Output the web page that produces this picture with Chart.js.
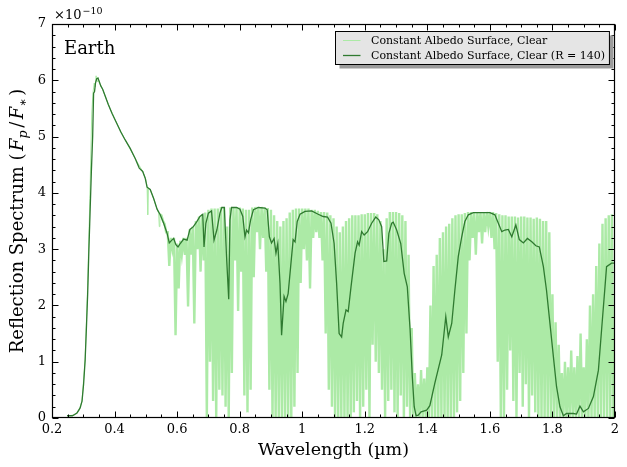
<!DOCTYPE html>
<html lang="en">
<head>
<meta charset="UTF-8">
<title>Earth reflection spectrum</title>
<script src="https://cdn.jsdelivr.net/npm/chart.js"></script>
<style>
  html, body { margin: 0; padding: 0; background: #fff; }
</style>
</head>
<body>
<canvas id="spectrum" width="627" height="467"></canvas>
<script>
// high resolution spectrum, smooth UV/blue part (wavelength in um, flux in 1e-10)
const smoothWl = [0.250, 0.270, 0.285, 0.296, 0.306, 0.314, 0.321, 0.327, 0.331, 0.335,
                  0.338, 0.341, 0.344, 0.347, 0.351, 0.362, 0.380, 0.405, 0.434, 0.466,
                  0.490, 0.500, 0.504, 0.506, 0.508, 0.514, 0.525, 0.536, 0.541, 0.543, 0.545];
const smoothFlux = [0.04, 0.05, 0.12, 0.30, 1.05, 2.35, 3.90, 5.40, 5.78, 5.95,
                    5.88, 6.08, 5.98, 6.05, 5.96, 5.84, 5.57, 5.26, 4.94, 4.61,
                    4.38, 4.24, 4.10, 3.61, 4.08, 4.06, 3.90, 3.71, 3.64, 3.40, 3.62];

// high resolution spectrum beyond 0.55 um, read per 0.01 um bin: top and bottom of the lines
const binWl = [0.55, 0.56, 0.57, 0.58, 0.59, 0.60, 0.61, 0.62, 0.63, 0.64,
               0.65, 0.66, 0.67, 0.68, 0.69, 0.70, 0.71, 0.72, 0.73, 0.74,
               0.75, 0.76, 0.77, 0.78, 0.79, 0.80, 0.81, 0.82, 0.83, 0.84,
               0.85, 0.86, 0.87, 0.88, 0.89, 0.90, 0.91, 0.92, 0.93, 0.94,
               0.95, 0.96, 0.97, 0.98, 0.99, 1.00, 1.01, 1.02, 1.03, 1.04,
               1.05, 1.06, 1.07, 1.08, 1.09, 1.10, 1.11, 1.12, 1.13, 1.14,
               1.15, 1.16, 1.17, 1.18, 1.19, 1.20, 1.21, 1.22, 1.23, 1.24,
               1.25, 1.26, 1.27, 1.28, 1.29, 1.30, 1.31, 1.32, 1.33, 1.34,
               1.35, 1.36, 1.37, 1.38, 1.39, 1.40, 1.41, 1.42, 1.43, 1.44,
               1.45, 1.46, 1.47, 1.48, 1.49, 1.50, 1.51, 1.52, 1.53, 1.54,
               1.55, 1.56, 1.57, 1.58, 1.59, 1.60, 1.61, 1.62, 1.63, 1.64,
               1.65, 1.66, 1.67, 1.68, 1.69, 1.70, 1.71, 1.72, 1.73, 1.74,
               1.75, 1.76, 1.77, 1.78, 1.79, 1.80, 1.81, 1.82, 1.83, 1.84,
               1.85, 1.86, 1.87, 1.88, 1.89, 1.90, 1.91, 1.92, 1.93, 1.94,
               1.95, 1.96, 1.97, 1.98, 1.99];
const binTop = [3.60, 3.45, 3.30, 3.20, 3.20, 3.10, 3.15, 3.20, 3.20, 3.35,
                3.40, 3.50, 3.58, 3.62, 3.65, 3.70, 3.72, 3.72, 3.72, 3.75,
                3.75, 3.40, 3.74, 3.75, 3.75, 3.74, 3.72, 3.70, 3.70, 3.74,
                3.75, 3.75, 3.75, 3.74, 3.73, 3.70, 3.60, 3.50, 3.40, 3.50,
                3.55, 3.65, 3.70, 3.72, 3.72, 3.72, 3.72, 3.72, 3.70, 3.70,
                3.68, 3.66, 3.66, 3.65, 3.60, 3.55, 3.40, 3.30, 3.40, 3.50,
                3.55, 3.60, 3.60, 3.60, 3.62, 3.62, 3.64, 3.64, 3.64, 3.62,
                3.50, 3.00, 3.55, 3.66, 3.66, 3.66, 3.64, 3.60, 3.50, 2.90,
                1.60, 0.80, 0.60, 0.85, 0.70, 0.90, 2.00, 2.70, 2.90, 3.20,
                3.30, 3.40, 3.45, 3.55, 3.60, 3.62, 3.62, 3.64, 3.66, 3.66,
                3.66, 3.66, 3.66, 3.66, 3.66, 3.66, 3.66, 3.64, 3.62, 3.60,
                3.60, 3.58, 3.58, 3.58, 3.56, 3.58, 3.58, 3.56, 3.56, 3.54,
                3.56, 3.54, 3.50, 3.50, 3.30, 2.20, 1.70, 1.30, 0.80, 1.00,
                0.90, 1.20, 0.90, 1.10, 1.50, 0.90, 1.40, 2.00, 2.20, 2.70,
                3.10, 3.45, 3.55, 3.60, 3.62];
const binLow = [3.50, 3.30, 2.70, 3.00, 1.47, 2.30, 2.90, 2.90, 1.98, 2.90,
                1.68, 3.00, 2.60, 2.80, 0.00, 1.00, 0.30, 0.00, 0.50, 0.40,
                0.20, 0.00, 0.80, 2.80, 1.90, 2.60, 0.40, 0.10, 0.50, 2.50,
                3.30, 3.00, 3.20, 2.60, 0.50, 0.00, 0.00, 0.00, 0.00, 0.00,
                0.00, 0.00, 0.20, 0.80, 2.40, 3.00, 2.80, 2.30, 3.20, 3.30,
                3.20, 2.80, 1.50, 0.50, 0.20, 0.00, 0.00, 0.00, 0.00, 0.00,
                0.00, 0.10, 0.30, 0.00, 0.20, 0.50, 0.00, 1.30, 1.00, 0.80,
                0.50, 0.00, 0.30, 0.50, 0.10, 0.00, 0.40, 0.00, 0.20, 0.00,
                0.00, 0.00, 0.00, 0.00, 0.00, 0.00, 0.00, 0.00, 0.00, 0.00,
                0.00, 0.00, 0.00, 0.00, 0.10, 0.30, 0.80, 1.50, 2.80, 3.20,
                2.90, 3.30, 3.10, 3.30, 3.40, 3.20, 3.00, 1.00, 0.00, 0.00,
                0.50, 1.20, 0.30, 0.00, 0.80, 0.20, 0.60, 0.00, 0.40, 0.10,
                0.00, 0.00, 0.00, 0.00, 0.00, 0.00, 0.00, 0.00, 0.00, 0.00,
                0.00, 0.00, 0.00, 0.00, 0.00, 0.00, 0.00, 0.00, 0.00, 0.00,
                0.00, 0.00, 0.00, 0.00, 0.00];

// binned spectrum, R = 140
const r140Wl = [0.248, 0.265, 0.280, 0.290, 0.296, 0.301, 0.306, 0.310, 0.314, 0.318,
                0.322, 0.326, 0.330, 0.333, 0.336, 0.339, 0.343, 0.347, 0.351, 0.356,
                0.362, 0.370, 0.380, 0.392, 0.405, 0.420, 0.434, 0.450, 0.466, 0.479,
                0.490, 0.498, 0.504, 0.514, 0.525, 0.536, 0.546, 0.557, 0.568, 0.575,
                0.583, 0.589, 0.596, 0.603, 0.610, 0.621, 0.632, 0.641, 0.652, 0.663,
                0.673, 0.682, 0.686, 0.692, 0.700, 0.710, 0.718, 0.727, 0.737, 0.743,
                0.751, 0.758, 0.765, 0.769, 0.774, 0.790, 0.801, 0.810, 0.817, 0.822,
                0.828, 0.835, 0.844, 0.860, 0.881, 0.888, 0.895, 0.902, 0.910, 0.916,
                0.922, 0.929, 0.934, 0.942, 0.948, 0.955, 0.963, 0.971, 0.977, 0.984,
                0.993, 1.009, 1.030, 1.051, 1.067, 1.081, 1.092, 1.102, 1.110, 1.118,
                1.126, 1.131, 1.140, 1.147, 1.156, 1.169, 1.177, 1.182, 1.190, 1.198,
                1.209, 1.222, 1.235, 1.245, 1.254, 1.261, 1.270, 1.277, 1.286, 1.291,
                1.302, 1.315, 1.326, 1.336, 1.345, 1.352, 1.358, 1.364, 1.371, 1.380,
                1.398, 1.408, 1.424, 1.446, 1.459, 1.467, 1.478, 1.488, 1.499, 1.510,
                1.520, 1.531, 1.547, 1.568, 1.600, 1.616, 1.627, 1.638, 1.648, 1.659,
                1.670, 1.683, 1.694, 1.707, 1.720, 1.734, 1.747, 1.758, 1.771, 1.781,
                1.792, 1.803, 1.813, 1.824, 1.835, 1.845, 1.867, 1.877, 1.888, 1.899,
                1.915, 1.931, 1.947, 1.957, 1.968, 1.973, 1.989, 1.999];
const r140Flux = [0.04, 0.04, 0.09, 0.18, 0.30, 0.60, 1.03, 1.60, 2.20, 3.00,
                  3.70, 4.40, 5.00, 5.77, 5.80, 5.95, 6.03, 6.04, 5.98, 5.90,
                  5.84, 5.72, 5.57, 5.41, 5.26, 5.08, 4.94, 4.79, 4.61, 4.44,
                  4.38, 4.26, 4.10, 4.06, 3.90, 3.71, 3.61, 3.46, 3.28, 3.11,
                  3.16, 3.19, 3.08, 3.04, 3.10, 3.18, 3.16, 3.35, 3.40, 3.49,
                  3.58, 3.62, 3.04, 3.46, 3.64, 3.68, 3.16, 3.34, 3.64, 3.74,
                  3.74, 2.87, 2.11, 3.52, 3.74, 3.74, 3.71, 3.58, 3.22, 3.34,
                  3.29, 3.52, 3.70, 3.74, 3.73, 3.70, 3.22, 3.11, 3.19, 2.93,
                  3.10, 2.39, 1.47, 2.16, 2.07, 2.21, 2.69, 3.17, 3.13, 3.49,
                  3.62, 3.67, 3.68, 3.62, 3.58, 3.57, 3.46, 3.10, 2.39, 1.50,
                  1.44, 1.68, 1.92, 1.89, 2.33, 2.93, 3.13, 3.07, 3.31, 3.25,
                  3.31, 3.46, 3.57, 3.52, 3.40, 2.78, 2.79, 3.28, 3.46, 3.48,
                  3.34, 3.10, 2.57, 2.33, 1.56, 0.73, 0.20, 0.04, 0.05, 0.11,
                  0.14, 0.22, 0.62, 1.12, 1.80, 1.44, 1.68, 2.27, 2.87, 3.22,
                  3.49, 3.61, 3.65, 3.65, 3.65, 3.61, 3.46, 3.31, 3.34, 3.35,
                  3.22, 3.43, 3.17, 3.11, 3.19, 3.13, 3.06, 3.04, 2.69, 2.27,
                  1.68, 1.09, 0.56, 0.20, 0.04, 0.08, 0.08, 0.07, 0.21, 0.11,
                  0.17, 0.38, 0.85, 1.56, 2.33, 2.69, 2.75, 2.75];

const seriesNames = ['Constant Albedo Surface, Clear', 'Constant Albedo Surface, Clear (R = 140)'];
const xTickStep = 0.2;
const yTickStep = 1;

const lightGreen = 'rgb(172,234,166)';
const darkGreen = '#2f7a30';
const serif = "'DejaVu Serif', 'Liberation Serif', serif";

// build the point lists
const hiRes = smoothWl.map((w, i) => ({ x: w, y: smoothFlux[i] }));
binWl.forEach((w, i) => {
    const half = i < binWl.length - 1 ? (binWl[i + 1] - w) / 2 : (w - binWl[i - 1]) / 2;
    hiRes.push({ x: w, y: binTop[i] });
    hiRes.push({ x: w + half, y: binLow[i] });
});
const r140 = r140Wl.map((w, i) => ({ x: w, y: r140Flux[i] }));
const lineForestStart = binWl[0];

// draws frame with inward ticks, labels, legend box
const decorations = {
    id: 'decorations',
    afterDraw(chart) {
        const ctx = chart.ctx, a = chart.chartArea;
        const xs = chart.scales.x, ys = chart.scales.y;
        const L = Math.round(a.left) + 0.5, R = Math.round(a.right) - 0.5;
        const T = Math.round(a.top) + 0.5, B = Math.round(a.bottom) - 0.5;
        ctx.save();
        ctx.strokeStyle = '#000';
        ctx.lineWidth = 1;
        ctx.beginPath();
        const marks = (scale, minor, draw) => {
            const t = scale.ticks.map(k => k.value);
            t.forEach((v, i) => {
                draw(Math.round(scale.getPixelForValue(v)) + 0.5, 6);
                if (i < t.length - 1) {
                    const st = (t[i + 1] - v) / (minor + 1);
                    for (let j = 1; j <= minor; j++) draw(Math.round(scale.getPixelForValue(v + j * st)) + 0.5, 3);
                }
            });
        };
        marks(xs, 3, (p, len) => {
            ctx.moveTo(p, B); ctx.lineTo(p, B - len);
            ctx.moveTo(p, T); ctx.lineTo(p, T + len);
        });
        marks(ys, 4, (p, len) => {
            ctx.moveTo(L, p); ctx.lineTo(L + len, p);
            ctx.moveTo(R, p); ctx.lineTo(R - len, p);
        });
        ctx.stroke();
        ctx.lineWidth = 1.2;
        ctx.strokeRect(L, T, R - L, B - T);

        ctx.fillStyle = '#000';
        ctx.textBaseline = 'alphabetic';
        // offset text above the y axis
        ctx.font = '13px ' + serif;
        ctx.fillText('\u00d710', a.left + 2, a.top - 5);
        const w10 = ctx.measureText('\u00d710').width;
        ctx.font = '9.5px ' + serif;
        ctx.fillText('\u221210', a.left + 2 + w10 + 1, a.top - 10);

        // planet label
        ctx.font = '18px ' + serif;
        ctx.fillText('Earth', a.left + 12, a.top + 30);

        // x title
        ctx.font = '17.5px ' + serif;
        ctx.textAlign = 'center';
        ctx.fillText('Wavelength (\u00b5m)', (a.left + a.right) / 2, 455);
        ctx.textAlign = 'left';

        // y title with math part
        const parts = [
            { t: 'Reflection Spectrum ', s: 18 },
            { t: '(', s: 18, gap: 2.5 },
            { t: 'F', s: 18, it: true },
            { t: 'p', s: 12.6, it: true, dy: 4, gap: 2.5 },
            { t: '/', s: 18, gap: 2.5 },
            { t: 'F', s: 18, it: true },
            { t: '\u2217', s: 12.6, dy: 4, gap: 2.5 },
            { t: ')', s: 18 }
        ];
        let total = 0;
        parts.forEach(p => {
            ctx.font = (p.it ? 'italic ' : '') + p.s + 'px ' + serif;
            p.w = ctx.measureText(p.t).width;
            total += p.w + (p.gap || 0);
        });
        ctx.save();
        ctx.translate(23, (a.top + a.bottom) / 2);
        ctx.rotate(-Math.PI / 2);
        let cx = -total / 2;
        parts.forEach(p => {
            ctx.font = (p.it ? 'italic ' : '') + p.s + 'px ' + serif;
            ctx.fillText(p.t, cx, p.dy || 0);
            cx += p.w + (p.gap || 0);
        });
        ctx.restore();

        // legend
        ctx.font = '11px ' + serif;
        const tw = Math.max(...seriesNames.map(n => ctx.measureText(n).width));
        const bw = 7.5 + 17.5 + 10.5 + tw + 4.5;
        const bx = Math.round(a.right - 6 - bw) + 0.5, by = Math.round(a.top + 7) + 0.5, bh = 33;
        ctx.fillStyle = '#9b9b9b';
        ctx.fillRect(bx + 4, by + 4, bw, bh);
        ctx.fillStyle = '#e5e5e5';
        ctx.fillRect(bx, by, bw, bh);
        ctx.strokeStyle = '#000';
        ctx.lineWidth = 1;
        ctx.strokeRect(bx, by, bw, bh);
        const sampleWidths = [1, 1.3];
        chart.data.datasets.forEach((ds, i) => {
            const yy = by + 8.5 + i * 14.7;
            ctx.strokeStyle = ds.borderColor;
            ctx.lineWidth = sampleWidths[i];
            ctx.beginPath();
            ctx.moveTo(bx + 7.5, Math.round(yy) + 0.5);
            ctx.lineTo(bx + 25, Math.round(yy) + 0.5);
            ctx.stroke();
            ctx.fillStyle = '#000';
            ctx.fillText(seriesNames[i], bx + 35.5, yy + 4);
        });
        ctx.restore();
    }
};

new Chart(document.getElementById('spectrum'), {
    type: 'line',
    data: {
        datasets: [
            { label: seriesNames[0], data: hiRes, borderColor: lightGreen, borderWidth: 2.4,
              pointRadius: 0, tension: 0, order: 2,
              // thin line where the spectrum is smooth, thick strokes in the line forest
              segment: { borderWidth: c => c.p1.parsed.x < lineForestStart ? 1 : 2.4 } },
            { label: seriesNames[1], data: r140, borderColor: darkGreen, borderWidth: 1.3,
              pointRadius: 0, tension: 0, order: 1 }
        ]
    },
    options: {
        responsive: false,
        animation: false,
        events: [],
        layout: { padding: { left: 0, right: 12, top: 24, bottom: 0 } },
        plugins: { legend: { display: false }, tooltip: { enabled: false } },
        scales: {
            x: {
                type: 'linear', min: 0.2, max: 2,
                afterFit: s => { s.height = 49; },
                grid: { display: false, drawTicks: false },
                border: { display: false },
                ticks: {
                    stepSize: xTickStep, autoSkip: false, maxRotation: 0, padding: 4,
                    color: '#000', font: { family: serif, size: 13 },
                    callback: v => String(+v.toFixed(1))
                }
            },
            y: {
                min: 0, max: 7,
                afterFit: s => { s.width = 52; },
                grid: { display: false, drawTicks: false },
                border: { display: false },
                ticks: {
                    stepSize: yTickStep, padding: 6,
                    color: '#000', font: { family: serif, size: 13 }
                }
            }
        }
    },
    plugins: [decorations]
});
</script>
</body>
</html>
